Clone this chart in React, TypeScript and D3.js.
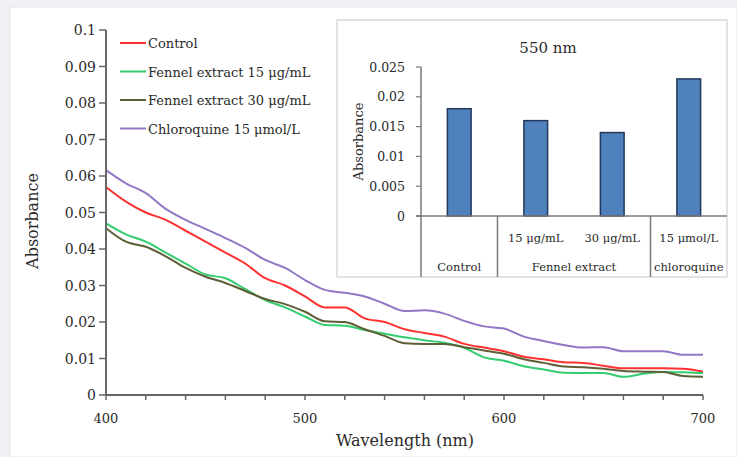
import React, { useEffect, useRef } from 'react'
import * as d3 from 'd3'

// wavelengths (nm)
const wavelengths = [400, 410, 420, 430, 440, 450, 460, 470, 480, 490, 500, 510, 520, 530, 540, 550,
  560, 570, 580, 590, 600, 610, 620, 630, 640, 650, 660, 670, 680, 690, 700]

const control = [0.057, 0.053, 0.050, 0.048, 0.045, 0.042, 0.039, 0.036, 0.032, 0.030, 0.027, 0.024, 0.024,
  0.021, 0.020, 0.018, 0.017, 0.016, 0.014, 0.013, 0.012, 0.0105, 0.0098, 0.009, 0.0088, 0.008, 0.0073, 0.0073,
  0.0073, 0.0072, 0.0064]
const fennel15 = [0.047, 0.044, 0.042, 0.039, 0.036, 0.033, 0.032, 0.029, 0.026, 0.024, 0.0215, 0.0192, 0.019,
  0.0178, 0.0168, 0.0158, 0.015, 0.0143, 0.0129, 0.0103, 0.0094, 0.0079, 0.007, 0.0061, 0.006, 0.006, 0.005,
  0.0058, 0.0063, 0.0062, 0.006]
const fennel30 = [0.0457, 0.042, 0.0406, 0.038, 0.0348, 0.0324, 0.0307, 0.0285, 0.0263, 0.0249, 0.0228, 0.0202,
  0.020, 0.018, 0.0162, 0.0142, 0.014, 0.014, 0.0131, 0.0122, 0.0113, 0.0098, 0.0088, 0.0078, 0.0076, 0.0072,
  0.0066, 0.0064, 0.0063, 0.0052, 0.005]
const chloroquine = [0.0616, 0.058, 0.0553, 0.051, 0.048, 0.0455, 0.043, 0.0403, 0.037, 0.0348, 0.0315, 0.0288,
  0.028, 0.027, 0.025, 0.023, 0.0232, 0.0223, 0.0203, 0.0188, 0.0182, 0.016, 0.0148, 0.0137, 0.013, 0.0131,
  0.012, 0.012, 0.012, 0.011, 0.011]

const seriesNames = ['Control', 'Fennel extract 15 μg/mL', 'Fennel extract 30 μg/mL', 'Chloroquine 15 μmol/L']
const seriesColors = ['#ff3030', '#33cc6e', '#5f5e36', '#9277c4']

// inset bar chart at 550 nm
const barKeys = ['control', 'f15', 'f30', 'chloro']
const barValues = [0.018, 0.016, 0.014, 0.023]
const barSubLabels = ['', '15 μg/mL', '30 μg/mL', '15 μmol/L']
const barGroups = [
  { label: 'Control', from: 0, to: 0 },
  { label: 'Fennel extract', from: 1, to: 2 },
  { label: 'chloroquine', from: 3, to: 3 },
]

const FONT = '"DejaVu Serif", serif'
const TXT = '#2a2a2a'

function App() {
  const ref = useRef<SVGSVGElement>(null)

  useEffect(() => {
    const W = 737
    const H = 457
    const svg = d3.select(ref.current).attr('width', W).attr('height', H)
    svg.selectAll('*').remove()

    // page frame
    svg.append('rect').attr('width', W).attr('height', H).attr('fill', '#eef0f3')
    svg.append('rect').attr('x', 10).attr('y', 7).attr('width', W - 10).attr('height', H - 7)
      .attr('fill', '#ffffff').attr('stroke', '#e2e4e7').attr('stroke-width', 1)

    // MAIN CHART
    const x = d3.scaleLinear().domain([400, 700]).range([106, 703])
    const y = d3.scaleLinear().domain([0, 0.1]).range([395, 30])
    const axisColor = '#666'

    const series = [control, fennel15, fennel30, chloroquine]
    const line = d3.line<number>()
      .x((_, i) => x(wavelengths[i]))
      .y(d => y(d))
      .curve(d3.curveMonotoneX)

    // draw order: purple, red, green, olive on top
    ;[3, 0, 1, 2].forEach(k => {
      svg.append('path')
        .attr('d', line(series[k]))
        .attr('fill', 'none')
        .attr('stroke', seriesColors[k])
        .attr('stroke-width', 2)
        .attr('stroke-linejoin', 'round')
    })

    // y axis
    svg.append('line').attr('x1', x(400)).attr('x2', x(400)).attr('y1', y(0)).attr('y2', y(0.1))
      .attr('stroke', axisColor).attr('stroke-width', 2)
    const yTicks = y.ticks(10)
    svg.append('g').selectAll('line').data(yTicks).join('line')
      .attr('x1', x(400) - 7).attr('x2', x(400)).attr('y1', d => y(d)).attr('y2', d => y(d))
      .attr('stroke', axisColor).attr('stroke-width', 1.5)
    svg.append('g').selectAll('text').data(yTicks).join('text')
      .attr('x', x(400) - 10).attr('y', d => y(d) + 5)
      .attr('text-anchor', 'end').attr('font-family', FONT).attr('font-size', 14).attr('fill', TXT)
      .text(d => String(+d.toFixed(2)))

    // x axis
    svg.append('line').attr('x1', x(400)).attr('x2', x(700)).attr('y1', y(0)).attr('y2', y(0))
      .attr('stroke', axisColor).attr('stroke-width', 2)
    const xMinor = d3.range(400, 701, 20)
    svg.append('g').selectAll('line').data(xMinor).join('line')
      .attr('x1', d => x(d)).attr('x2', d => x(d)).attr('y1', y(0)).attr('y2', y(0) + 5)
      .attr('stroke', axisColor).attr('stroke-width', 1.5)
    svg.append('g').selectAll('text').data(x.ticks(3)).join('text')
      .attr('x', d => x(d)).attr('y', y(0) + 28)
      .attr('text-anchor', 'middle').attr('font-family', FONT).attr('font-size', 13).attr('fill', TXT)
      .text(d => d)

    svg.append('text').attr('x', 405).attr('y', 446).attr('text-anchor', 'middle')
      .attr('font-family', FONT).attr('font-size', 16).attr('fill', TXT).text('Wavelength (nm)')
    svg.append('text').attr('transform', 'translate(38,221) rotate(-90)').attr('text-anchor', 'middle')
      .attr('font-family', FONT).attr('font-size', 16).attr('fill', TXT).text('Absorbance')

    // legend
    const lg = svg.append('g').selectAll('g').data(seriesNames).join('g')
      .attr('transform', (_, i) => `translate(120,${43 + i * 28.5})`)
    lg.append('line').attr('x1', 0).attr('x2', 26).attr('stroke', (_, i) => seriesColors[i]).attr('stroke-width', 2)
    lg.append('text').attr('x', 28).attr('y', 5).attr('font-family', FONT).attr('font-size', 13)
      .attr('fill', TXT).text(d => d)

    // INSET
    const inset = svg.append('g')
    inset.append('rect').attr('x', 337).attr('y', 20).attr('width', 390).attr('height', 257)
      .attr('fill', '#ffffff').attr('stroke', '#d9d9d9').attr('stroke-width', 1.5)

    const xb = d3.scaleBand().domain(barKeys).range([421, 727]).paddingInner(0.69).paddingOuter(0.345)
    const yb = d3.scaleLinear().domain([0, 0.025]).range([216, 67])
    const step = xb.step()
    const x0 = xb.range()[0]
    const insetAxis = '#7a7a7a'

    inset.append('text').attr('x', 548).attr('y', 53).attr('text-anchor', 'middle')
      .attr('font-family', FONT).attr('font-size', 15).attr('fill', TXT).text('550 nm')

    inset.append('g').selectAll('rect').data(barValues).join('rect')
      .attr('x', (_, i) => xb(barKeys[i]) as number).attr('width', xb.bandwidth())
      .attr('y', d => yb(d)).attr('height', d => yb(0) - yb(d))
      .attr('fill', '#4f81bd').attr('stroke', '#22385c').attr('stroke-width', 1.5)

    // inset y axis + separators
    inset.append('line').attr('x1', x0).attr('x2', x0).attr('y1', yb(0.025)).attr('y2', 277)
      .attr('stroke', insetAxis).attr('stroke-width', 1.5)
    const ybTicks = yb.ticks(5)
    inset.append('g').selectAll('line').data(ybTicks).join('line')
      .attr('x1', x0 - 5).attr('x2', x0).attr('y1', d => yb(d)).attr('y2', d => yb(d))
      .attr('stroke', insetAxis).attr('stroke-width', 1.2)
    inset.append('g').selectAll('text').data(ybTicks).join('text')
      .attr('x', x0 - 16).attr('y', d => yb(d) + 4.5).attr('text-anchor', 'end')
      .attr('font-family', FONT).attr('font-size', 12.5).attr('fill', TXT)
      .text(d => String(+d.toFixed(3)))
    inset.append('line').attr('x1', x0 - 5).attr('x2', 727).attr('y1', yb(0)).attr('y2', yb(0))
      .attr('stroke', insetAxis).attr('stroke-width', 1.5)
    inset.append('g').selectAll('line').data(barGroups.slice(1)).join('line')
      .attr('x1', d => x0 + d.from * step).attr('x2', d => x0 + d.from * step)
      .attr('y1', yb(0)).attr('y2', 277)
      .attr('stroke', insetAxis).attr('stroke-width', 1.5)

    inset.append('g').selectAll('text').data(barSubLabels).join('text')
      .attr('x', (_, i) => (xb(barKeys[i]) as number) + xb.bandwidth() / 2).attr('y', 242)
      .attr('text-anchor', 'middle').attr('font-family', FONT).attr('font-size', 11.5).attr('fill', TXT)
      .text(d => d)
    inset.append('g').selectAll('text').data(barGroups).join('text')
      .attr('x', d => x0 + ((d.from + d.to + 1) / 2) * step).attr('y', 271)
      .attr('text-anchor', 'middle').attr('font-family', FONT).attr('font-size', 11.5).attr('fill', TXT)
      .text(d => d.label)

    inset.append('text').attr('transform', `translate(363,${(yb(0) + yb(0.025)) / 2}) rotate(-90)`)
      .attr('text-anchor', 'middle').attr('font-family', FONT).attr('font-size', 13).attr('fill', TXT)
      .text('Absorbance')
  })

  return (
    <div style={{ position: 'absolute', left: 0, top: 0 }}>
      <svg ref={ref} style={{ display: 'block' }}></svg>
    </div>
  )
}

export default App
